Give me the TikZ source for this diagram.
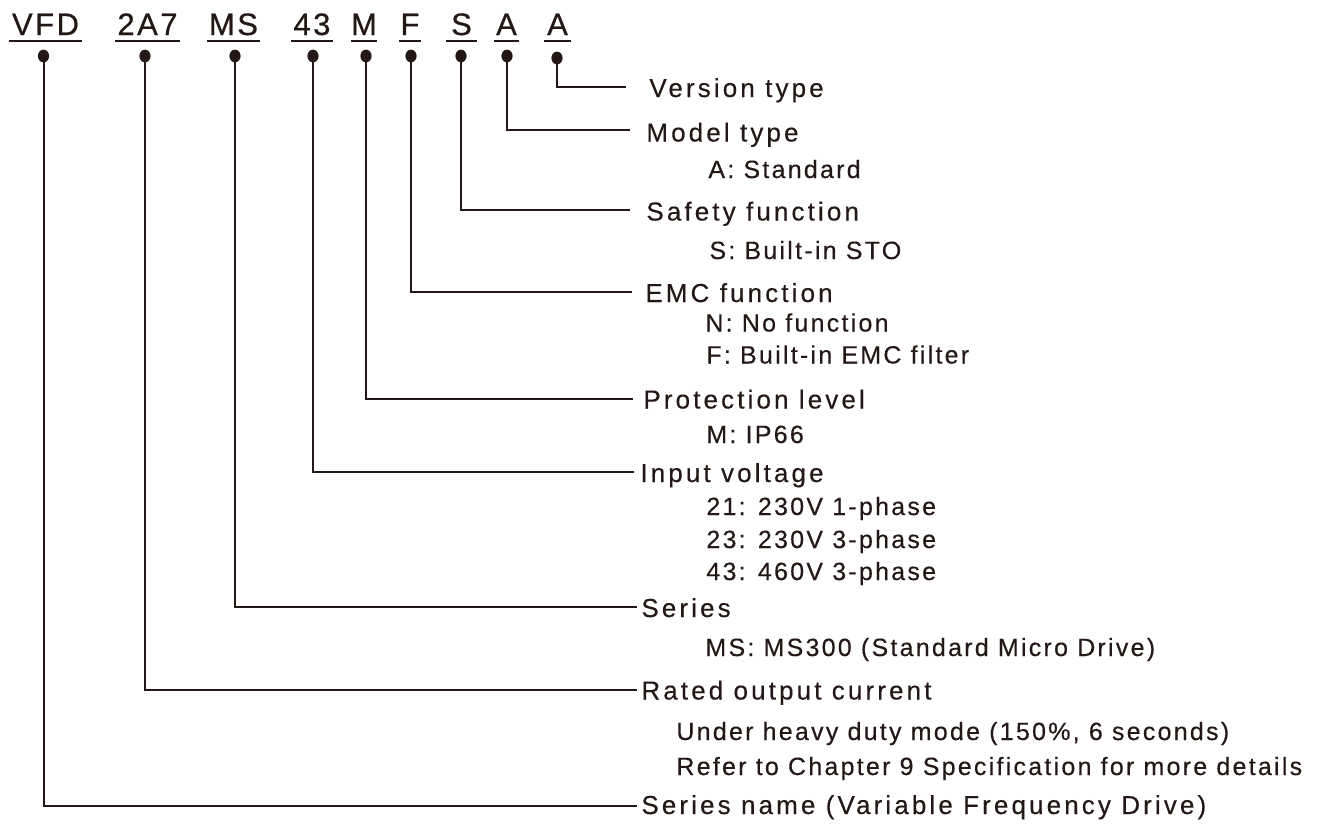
\documentclass[tikz,border=0pt]{standalone}
\usepackage{fontspec}
\setmainfont{Liberation Sans}
\newfontfamily\hfont[LetterSpace=12,FakeBold=0.3]{Liberation Sans}
\newfontfamily\sfont[LetterSpace=9,FakeBold=0.3]{Liberation Sans}
\newfontfamily\cfont[LetterSpace=8,FakeBold=0.6]{Liberation Sans}
\usetikzlibrary{shapes.geometric}
\definecolor{ink}{HTML}{231815}
\begin{document}
\begin{tikzpicture}[x=0.5pt,y=-0.5pt,
  code/.style={font=\cfont\fontsize{15.5}{18}\selectfont, text=ink, inner sep=0pt, anchor=base},
  head/.style={font=\hfont\fontsize{13}{15}\selectfont, text=ink, inner sep=0pt, anchor=base west},
  sub/.style={font=\sfont\fontsize{12.5}{15}\selectfont, text=ink, inner sep=0pt, anchor=base west},
  pin/.style={ellipse, fill=ink, minimum width=5.6pt, minimum height=6.4pt, inner sep=0pt},
  wire/.style={draw=ink, line width=1pt},
  uline/.style={draw=ink, line width=1pt}]
\useasboundingbox (0,0) rectangle (1317,825);

% code letters
\node[code] (c1) at (45.5,35) {VFD};
\node[code] (c2) at (147.5,35) {2A7};
\node[code] (c3) at (233.5,35) {MS};
\node[code] (c4) at (312,35) {43};
\node[code] (c5) at (364,35) {M};
\node[code] (c6) at (410,35) {F};
\node[code] (c7) at (461.5,35) {S};
\node[code] (c8) at (506.5,35) {A};
\node[code] (c9) at (557.5,35) {A};
\draw[uline] (9,40.5) -- (82,40.5);
\draw[uline] (115,40.5) -- (180,40.5);
\draw[uline] (207,40.5) -- (260,40.5);
\draw[uline] (291,40.5) -- (333,40.5);
\draw[uline] (351,40.5) -- (377,40.5);
\draw[uline] (399,40.5) -- (421,40.5);
\draw[uline] (446,40.5) -- (477,40.5);
\draw[uline] (494,40.5) -- (519,40.5);
\draw[uline] (544,40.5) -- (571,40.5);

% pins
\node[pin] (p1) at (43.5,56) {};
\node[pin] (p2) at (145,56) {};
\node[pin] (p3) at (235,56) {};
\node[pin] (p4) at (313,56) {};
\node[pin] (p5) at (366,56) {};
\node[pin] (p6) at (411,56) {};
\node[pin] (p7) at (461,56) {};
\node[pin] (p8) at (507,56) {};
\node[pin] (p9) at (557,58) {};

% line ends
\coordinate (e1) at (637,806);
\coordinate (e2) at (637,690);
\coordinate (e3) at (637,607);
\coordinate (e4) at (634,472);
\coordinate (e5) at (633,399);
\coordinate (e6) at (632,292);
\coordinate (e7) at (630,210);
\coordinate (e8) at (630,130);
\coordinate (e9) at (626,87);

\draw[wire] (p1.center) |- (e1);
\draw[wire] (p2.center) |- (e2);
\draw[wire] (p3.center) |- (e3);
\draw[wire] (p4.center) |- (e4);
\draw[wire] (p5.center) |- (e5);
\draw[wire] (p6.center) |- (e6);
\draw[wire] (p7.center) |- (e7);
\draw[wire] (p8.center) |- (e8);
\draw[wire] (p9.center) |- (e9);

% headings
\node[head] (h9) at (649,97) {Version type};
\node[head] (h8) at (646,141.5) {Model type};
\node[sub]  (s8) at (708,178) {A: Standard};
\node[head] (h7) at (646,220.5) {Safety function};
\node[sub]  (s7) at (709,259) {S: Built-in STO};
\node[head] (h6) at (645,302) {EMC function};
\node[sub]  (s6a) at (705,331.5) {N: No function};
\node[sub]  (s6b) at (706,363.5) {F: Built-in EMC filter};
\node[head] (h5) at (643,408.5) {Protection level};
\node[sub]  (s5) at (706,443) {M: IP66};
\node[head] (h4) at (640,482) {Input voltage};
\node[sub]  (s4a) at (706,515) {21: 230V 1-phase};
\node[sub]  (s4b) at (706,548) {23: 230V 3-phase};
\node[sub]  (s4c) at (706,580) {43: 460V 3-phase};
\node[head] (h3) at (641,617) {Series};
\node[sub]  (s3) at (705,656) {MS: MS300 (Standard Micro Drive)};
\node[head] (h2) at (641,699.5) {Rated output current};
\node[sub]  (s2a) at (676,740) {Under heavy duty mode (150\%, 6 seconds)};
\node[sub]  (s2b) at (676,775) {Refer to Chapter 9 Specification for more details};
\node[head] (h1) at (641,814) {Series name (Variable Frequency Drive)};
\end{tikzpicture}
\end{document}
